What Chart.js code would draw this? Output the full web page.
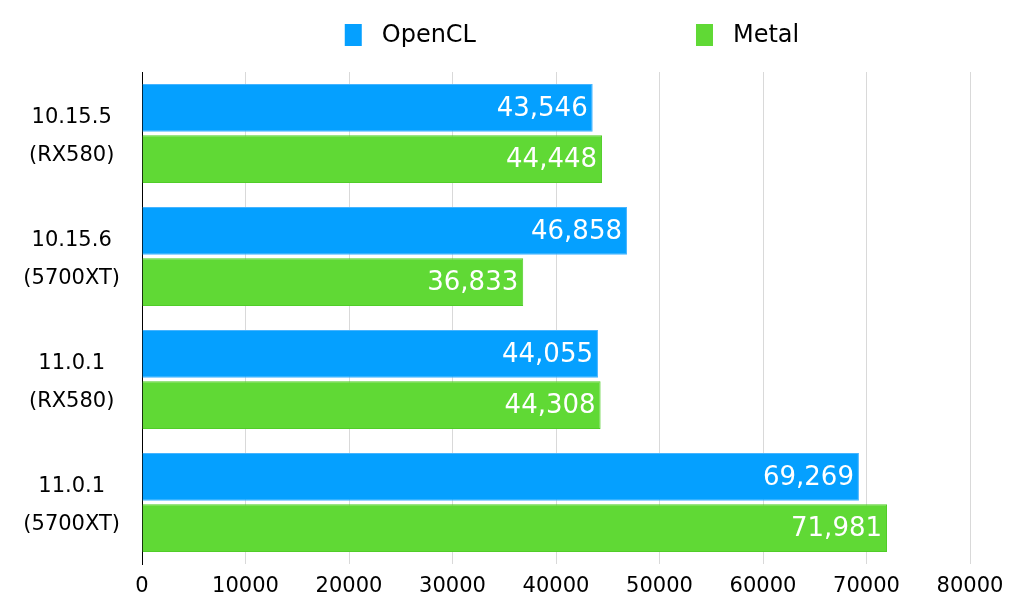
<!DOCTYPE html>
<html>
<head>
<meta charset="utf-8">
<script src="https://cdn.jsdelivr.net/npm/chart.js@4"></script>
<style>
  html, body { margin: 0; padding: 0; background: #ffffff; }
  #wrap { width: 1024px; height: 615px; position: relative; }
</style>
</head>
<body>
<div id="wrap"><canvas id="c"></canvas></div>
<script>
const categories = [
  ['10.15.5', '(RX580)'],
  ['10.15.6', '(5700XT)'],
  ['11.0.1', '(RX580)'],
  ['11.0.1', '(5700XT)']
];
const seriesNames = ['OpenCL', 'Metal'];
const openclValues = [43546, 46858, 44055, 69269];
const metalValues = [44448, 36833, 44308, 71981];
const xTickMax = 80000;
const xTickStep = 10000;

const FONT = "'DejaVu Sans', 'Noto Sans', sans-serif";
const BLUE = 'rgb(5,160,255)';
const BLUE_BORDER = 'rgb(70,180,255)';
const GREEN = 'rgb(96,217,53)';
const GREEN_BORDER = 'rgb(80,205,40)';

const valueLabels = {
  id: 'valueLabels',
  afterDatasetsDraw(chart) {
    const ctx = chart.ctx;
    ctx.save();
    ctx.font = '26px ' + FONT;
    ctx.fillStyle = '#ffffff';
    ctx.textAlign = 'right';
    ctx.textBaseline = 'middle';
    chart.data.datasets.forEach((ds, di) => {
      const meta = chart.getDatasetMeta(di);
      meta.data.forEach((el, i) => {
        const v = ds.data[i];
        ctx.fillText(v.toLocaleString('en-US'), el.x - 5, el.y + 1);
      });
    });
    ctx.restore();
  }
};

const topLegend = {
  id: 'topLegend',
  afterDraw(chart) {
    const ctx = chart.ctx;
    ctx.save();
    ctx.font = '24px ' + FONT;
    ctx.textBaseline = 'middle';
    ctx.textAlign = 'left';
    const boxW = 17, boxH = 22, gap = 20, spacing = 220;
    const items = chart.data.datasets.map(ds => ({
      label: ds.label, color: ds.backgroundColor, w: boxW + gap + ctx.measureText(ds.label).width
    }));
    const total = items.reduce((s, it) => s + it.w, 0) + spacing * (items.length - 1);
    let x = 572 - total / 2;
    const cy = 35;
    items.forEach(it => {
      ctx.fillStyle = it.color;
      ctx.fillRect(x, cy - boxH / 2, boxW, boxH);
      ctx.fillStyle = '#000000';
      ctx.fillText(it.label, x + boxW + gap, cy + 1);
      x += it.w + spacing;
    });
    ctx.restore();
  }
};

new Chart(document.getElementById('c'), {
  type: 'bar',
  data: {
    labels: categories,
    datasets: [
      {
        label: seriesNames[0], data: openclValues,
        backgroundColor: BLUE, borderColor: BLUE_BORDER, borderWidth: 1,
        categoryPercentage: 0.83, barPercentage: 0.935
      },
      {
        label: seriesNames[1], data: metalValues,
        backgroundColor: GREEN, borderColor: GREEN_BORDER, borderWidth: 1,
        categoryPercentage: 0.83, barPercentage: 0.935
      }
    ]
  },
  options: {
    indexAxis: 'y',
    responsive: true,
    maintainAspectRatio: false,
    animation: false,
    layout: { padding: { top: 72, right: 54, bottom: 0, left: 0 } },
    plugins: {
      legend: { display: false },
      tooltip: { enabled: false },
      title: { display: false }
    },
    scales: {
      x: {
        type: 'linear',
        min: 0,
        max: xTickMax,
        ticks: {
          stepSize: xTickStep,
          color: '#000000',
          font: { family: FONT, size: 21 },
          padding: 10,
          callback: v => String(v)
        },
        grid: { color: '#d9d9d9', lineWidth: 1, drawTicks: false },
        border: { display: false },
        afterFit(scale) { scale.height = 51; scale.paddingLeft = 0; }
      },
      y: {
        type: 'category',
        ticks: {
          color: '#000000',
          font: { family: FONT, size: 21, lineHeight: 1.8 },
          padding: 22,
          labelOffset: 3,
          crossAlign: 'center'
        },
        grid: { display: false, drawTicks: false },
        border: { display: true, color: '#000000', width: 1 },
        afterFit(scale) { scale.width = 142; scale.paddingTop = 0; scale.paddingBottom = 0; }
      }
    }
  },
  plugins: [valueLabels, topLegend]
});
</script>
</body>
</html>
